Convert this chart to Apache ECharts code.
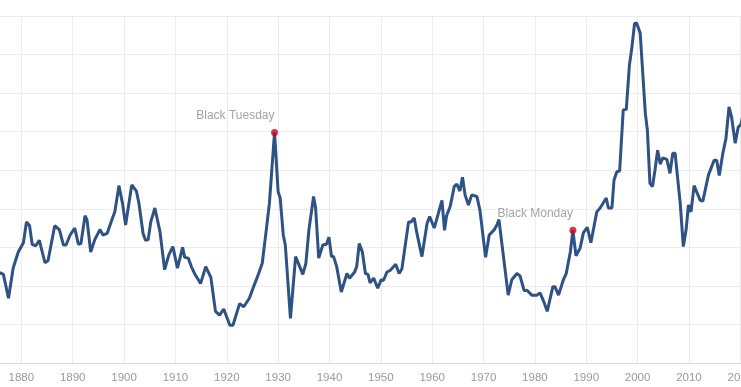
<!DOCTYPE html>
<html>
<head>
<meta charset="utf-8">
<script src="https://cdn.jsdelivr.net/npm/echarts@6/dist/echarts.min.js"></script>
<style>
html,body{margin:0;padding:0;background:#fff;}
#chart{width:741px;height:387px;}
</style>
</head>
<body>
<div id="chart"></div>
<script>
var years = [1871,1872,1873,1874,1875,1875.9,1876.5,1877.5,1878.4,1879.4,1880.4,1881.0,1881.6,1882.1,1882.8,1883.5,1884.6,1885.2,1886.5,1887.4,1888.2,1888.7,1889.5,1890.4,1891.1,1891.6,1892.4,1892.8,1893.5,1894.3,1895.3,1895.9,1896.7,1897.6,1898.2,1899.0,1899.7,1900.3,1901.5,1902.4,1902.9,1903.7,1904.2,1904.7,1905.2,1906.0,1907.0,1907.9,1908.7,1909.5,1910.4,1911.4,1911.8,1912.5,1913.1,1913.8,1914.9,1915.9,1916.9,1917.8,1918.6,1919.4,1920.6,1921.2,1922.5,1923.3,1924.4,1925.4,1926.1,1926.9,1927.7,1928.3,1929.3,1930.0,1930.4,1931.0,1931.4,1932.4,1933.4,1934.2,1934.8,1935.4,1936.0,1936.9,1937.3,1937.9,1938.7,1939.4,1939.9,1940.4,1940.8,1941.4,1942.3,1943.4,1943.9,1944.9,1945.3,1945.8,1946.4,1947.0,1947.5,1947.9,1948.6,1949.4,1950.05,1950.5,1951.2,1951.8,1952.9,1953.55,1954.1,1955.4,1955.9,1956.5,1957.0,1957.3,1958.0,1959.0,1959.5,1960.4,1961.2,1961.9,1962.4,1962.8,1963.5,1964.3,1964.8,1965.4,1965.9,1966.4,1967.05,1967.7,1968.7,1969.3,1970.4,1971.1,1972.1,1972.6,1973.0,1974.8,1975.5,1976.5,1977.1,1977.9,1978.5,1979.4,1980.4,1981.0,1981.7,1982.4,1983.5,1983.9,1984.6,1985.55,1986.1,1986.9,1987.4,1988.0,1988.8,1989.45,1990.2,1990.9,1992.05,1992.7,1993.9,1994.3,1995.0,1995.4,1995.95,1996.5,1997.2,1997.8,1998.4,1998.9,1999.4,1999.8,2000.5,2001.5,2001.9,2002.4,2002.9,2003.4,2003.9,2004.4,2004.9,2005.7,2006.3,2006.85,2007.3,2008.3,2008.9,2009.45,2009.9,2010.4,2011.0,2011.5,2012.2,2012.7,2013.8,2014.9,2015.4,2015.9,2016.6,2017.2,2017.8,2018.3,2019.0,2019.6,2020.1,2020.8];
var peValues = [11.1,12.1,12.7,10.5,11.2,11.7,11.5,8.4,12.3,14.4,15.6,18.3,17.8,15.4,15.2,15.9,13.0,13.3,17.8,17.3,15.3,15.3,16.6,17.5,15.4,15.5,19.1,18.5,14.4,16.0,17.3,16.6,16.8,18.5,19.6,23.0,20.7,17.9,23.1,22.3,20.7,16.8,15.9,16.0,18.3,20.1,17.0,12.1,14.0,15.1,12.3,15.0,13.7,13.6,12.5,11.5,10.3,12.5,11.1,6.7,6.2,7.0,4.9,4.9,7.7,7.3,8.4,10.2,11.4,12.9,17.3,20.7,29.9,22.2,21.4,16.6,15.3,5.8,13.8,12.5,11.5,12.9,17.3,21.6,20.1,13.6,15.3,15.4,16.3,13.8,13.8,12.5,9.2,11.6,11.0,11.8,12.5,15.5,14.4,11.6,11.5,10.4,11.0,9.7,10.8,10.7,11.8,12.0,12.8,11.6,12.2,18.3,18.3,18.8,16.9,16.8,13.8,18.1,19.0,17.5,19.4,21.1,17.2,19.1,20.3,22.9,23.2,22.3,24.1,21.8,20.5,21.8,21.6,19.8,13.7,16.6,17.3,17.9,18.6,8.8,10.8,11.6,11.3,9.4,9.4,8.8,8.8,9.1,8.0,6.7,9.9,9.9,8.8,10.8,11.6,14.4,17.2,13.9,14.9,16.9,17.6,15.6,19.6,20.1,21.4,20.1,20.1,23.7,24.8,24.9,32.8,32.9,38.6,41.0,44.0,44.1,42.8,32.4,30.2,23.3,22.9,25.1,27.6,25.8,26.6,26.4,24.6,27.2,27.2,20.7,15.1,17.3,20.5,19.6,23.0,22.2,21.1,21.0,24.4,26.3,26.3,24.3,27.2,29.1,33.2,31.9,28.5,30.6,30.9,33.0];
var eventNames = ['Black Tuesday', 'Black Monday'];
var eventYears = [1929.3, 1987.4];
var eventValues = [29.9, 17.2];
var yTicks = [0,5,10,15,20,25,30,35,40,45];

var lineData = years.map(function (y, i) { return [y, peValues[i]]; });
var eventData = eventYears.map(function (y, i) { return { name: eventNames[i], value: [y, eventValues[i]] }; });

var chart = echarts.init(document.getElementById('chart'), null, { renderer: 'canvas' });
chart.setOption({
  animation: false,
  backgroundColor: '#ffffff',
  grid: { left: -30, right: -25, top: 16, bottom: 24, containLabel: false, outerBoundsMode: 'none' },
  xAxis: {
    type: 'value', min: 1870, max: 2025, interval: 10,
    axisLine: { show: true, lineStyle: { color: '#d8d8d8', width: 1 } },
    axisTick: { show: false },
    axisLabel: { color: '#999999', fontSize: 11.5, fontFamily: 'Liberation Sans, Arial, sans-serif', margin: 9,
      formatter: function (v) { return (v % 10 === 0) ? String(v) : ''; } },
    splitLine: { show: true, lineStyle: { color: '#ececec', width: 1 } }
  },
  yAxis: {
    type: 'value', min: yTicks[0], max: yTicks[yTicks.length - 1], interval: 5,
    axisLine: { show: false }, axisTick: { show: false }, axisLabel: { show: false },
    splitLine: { show: true, lineStyle: { color: '#ececec', width: 1 } }
  },
  series: [
    {
      type: 'line', data: lineData, showSymbol: false, symbol: 'none',
      lineStyle: { color: '#2e5283', width: 3 }, z: 2
    },
    {
      type: 'scatter', data: eventData, symbolSize: 7,
      itemStyle: { color: '#d0021b' }, z: 3,
      label: { show: true, position: 'top', align: 'right', distance: 7, formatter: '{b}',
        color: '#8c8c8c', fontSize: 12, fontFamily: 'Liberation Sans, Arial, sans-serif' }
    }
  ]
});
</script>
</body>
</html>
